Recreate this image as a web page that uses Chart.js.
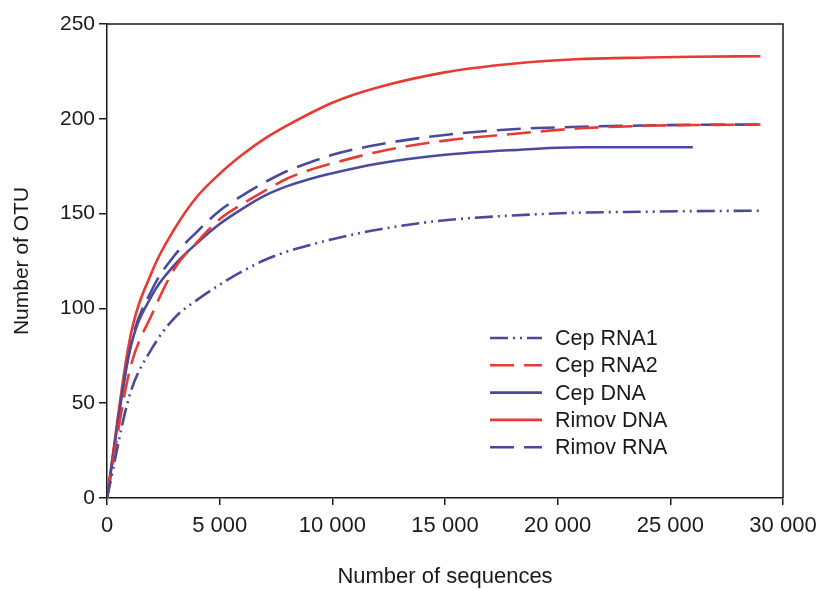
<!DOCTYPE html>
<html>
<head>
<meta charset="utf-8">
<script src="https://cdn.jsdelivr.net/npm/chart.js@4.4.1/dist/chart.umd.min.js"></script>
<style>
  html, body { margin: 0; padding: 0; background: #fff; }
  #wrap { width: 827px; height: 589px; }
</style>
</head>
<body>
<div id="wrap"><canvas id="chart"></canvas></div>
<script>
// rarefaction curves
var seqSteps  = [0, 1000, 2000, 3000, 4000, 5000, 6000, 7000, 8000, 9000, 10000, 12000, 15000, 18000, 21000, 24000, 26000, 29000];
var cepRna1   = [0, 54, 79, 95, 104.5, 112.5, 119.5, 125.5, 130, 133.5, 136.5, 141.5, 146.5, 149, 150.5, 151, 151.3, 151.5];
var cepRna2   = [0, 67, 97, 121, 135, 147, 155, 162, 168.5, 173, 176.5, 182.5, 188.5, 192, 195, 196.3, 196.7, 197];
var cepDna    = [0, 77, 107, 123, 134.5, 144.5, 152.5, 159.5, 164.5, 168.3, 171.3, 176.3, 181, 183.5, 185, 185, 185];
var rimovDna  = [0, 83, 119.5, 142, 159, 171, 181, 189.5, 196.5, 202.8, 208.5, 216.5, 224.5, 229, 231.5, 232.3, 232.7, 233];
var rimovRna  = [0, 78, 110, 128, 140.5, 151.5, 159.5, 166.5, 172.5, 177, 181, 186.3, 191.5, 194.5, 195.8, 196.5, 196.8, 197];

var seriesNames = ["Cep RNA1", "Cep RNA2", "Cep DNA", "Rimov DNA", "Rimov RNA"];
var xTicks = [0, 5000, 10000, 15000, 20000, 25000, 30000];

var BLUE = "#4a4a9c";
var RED = "#e83a32";
var FONT = "'Liberation Sans', Arial, sans-serif";

function toPoints(vals) {
    var pts = [];
    for (var i = 0; i < vals.length; i++) {
        pts.push({x: seqSteps[i], y: vals[i]});
    }
    return pts;
}

function makeSet(label, vals, color, dash) {
    return {
        label: label,
        data: toPoints(vals),
        borderColor: color,
        borderWidth: 2.6,
        borderDash: dash,
        pointRadius: 0,
        fill: false,
        cubicInterpolationMode: "monotone",
        borderCapStyle: "butt"
    };
}

function formatThousands(v) {
    if (v < 1000) return String(v);
    return Math.floor(v / 1000) + " " + ("00" + (v % 1000)).slice(-3);
}

// frame on top/right and the legend inside the plot
var framePlugin = {
    id: "frameAndLegend",
    afterDraw: function(chart) {
        var ctx = chart.ctx;
        var a = chart.chartArea;
        ctx.save();
        ctx.strokeStyle = "#1a1a1a";
        ctx.lineWidth = 1.5;
        ctx.beginPath();
        ctx.moveTo(a.left, a.top);
        ctx.lineTo(a.right, a.top);
        ctx.lineTo(a.right, a.bottom);
        ctx.stroke();

        var sets = chart.data.datasets;
        var x0 = 490, x1 = 542, y0 = 338, rowH = 27.3;
        ctx.font = "21.5px " + FONT;
        ctx.textBaseline = "middle";
        ctx.fillStyle = "#1a1a1a";
        for (var i = 0; i < sets.length; i++) {
            var y = y0 + i * rowH;
            ctx.strokeStyle = sets[i].borderColor;
            ctx.lineWidth = 2.6;
            ctx.setLineDash(sets[i].borderDash);
            ctx.beginPath();
            ctx.moveTo(x0, y);
            ctx.lineTo(x1, y);
            ctx.stroke();
            ctx.setLineDash([]);
            ctx.fillText(sets[i].label, 555, y + 1);
        }
        ctx.restore();
    }
};

var chart = new Chart(document.getElementById("chart"), {
    type: "line",
    data: {
        datasets: [
            makeSet(seriesNames[0], cepRna1, BLUE, [18, 5, 2, 5, 2, 5]),
            makeSet(seriesNames[1], cepRna2, RED, [24, 10]),
            makeSet(seriesNames[2], cepDna, BLUE, []),
            makeSet(seriesNames[3], rimovDna, RED, []),
            makeSet(seriesNames[4], rimovRna, BLUE, [24, 10])
        ]
    },
    options: {
        responsive: true,
        maintainAspectRatio: false,
        animation: false,
        layout: { padding: { left: 0, top: 24, right: 44, bottom: 0 } },
        plugins: {
            legend: { display: false },
            tooltip: { enabled: false }
        },
        scales: {
            x: {
                type: "linear",
                min: 0,
                max: 30000,
                afterBuildTicks: function(scale) {
                    scale.ticks = xTicks.map(function(v) { return {value: v}; });
                },
                afterFit: function(scale) { scale.height = 91; },
                grid: { drawOnChartArea: false, drawTicks: true, tickLength: 7, color: "#1a1a1a", lineWidth: 1.5 },
                border: { display: true, color: "#1a1a1a", width: 1.5 },
                ticks: {
                    padding: 8,
                    color: "#1a1a1a",
                    font: { family: FONT, size: 22 },
                    maxRotation: 0,
                    callback: function(v) { return formatThousands(v); }
                },
                title: {
                    display: true,
                    text: "Number of sequences",
                    color: "#1a1a1a",
                    font: { family: FONT, size: 22, lineHeight: 1 },
                    padding: { top: 0, bottom: 1 }
                }
            },
            y: {
                min: 0,
                max: 250,
                afterFit: function(scale) { scale.width = 107; },
                grid: { drawOnChartArea: false, drawTicks: true, tickLength: 8, color: "#1a1a1a", lineWidth: 1.5 },
                border: { display: true, color: "#1a1a1a", width: 1.5 },
                ticks: {
                    stepSize: 50,
                    padding: 4,
                    color: "#1a1a1a",
                    font: { family: FONT, size: 21 }
                },
                title: {
                    display: true,
                    text: "Number of OTU",
                    color: "#1a1a1a",
                    font: { family: FONT, size: 21 },
                    padding: { top: 10, bottom: 0 }
                }
            }
        }
    },
    plugins: [framePlugin]
});
</script>
</body>
</html>
